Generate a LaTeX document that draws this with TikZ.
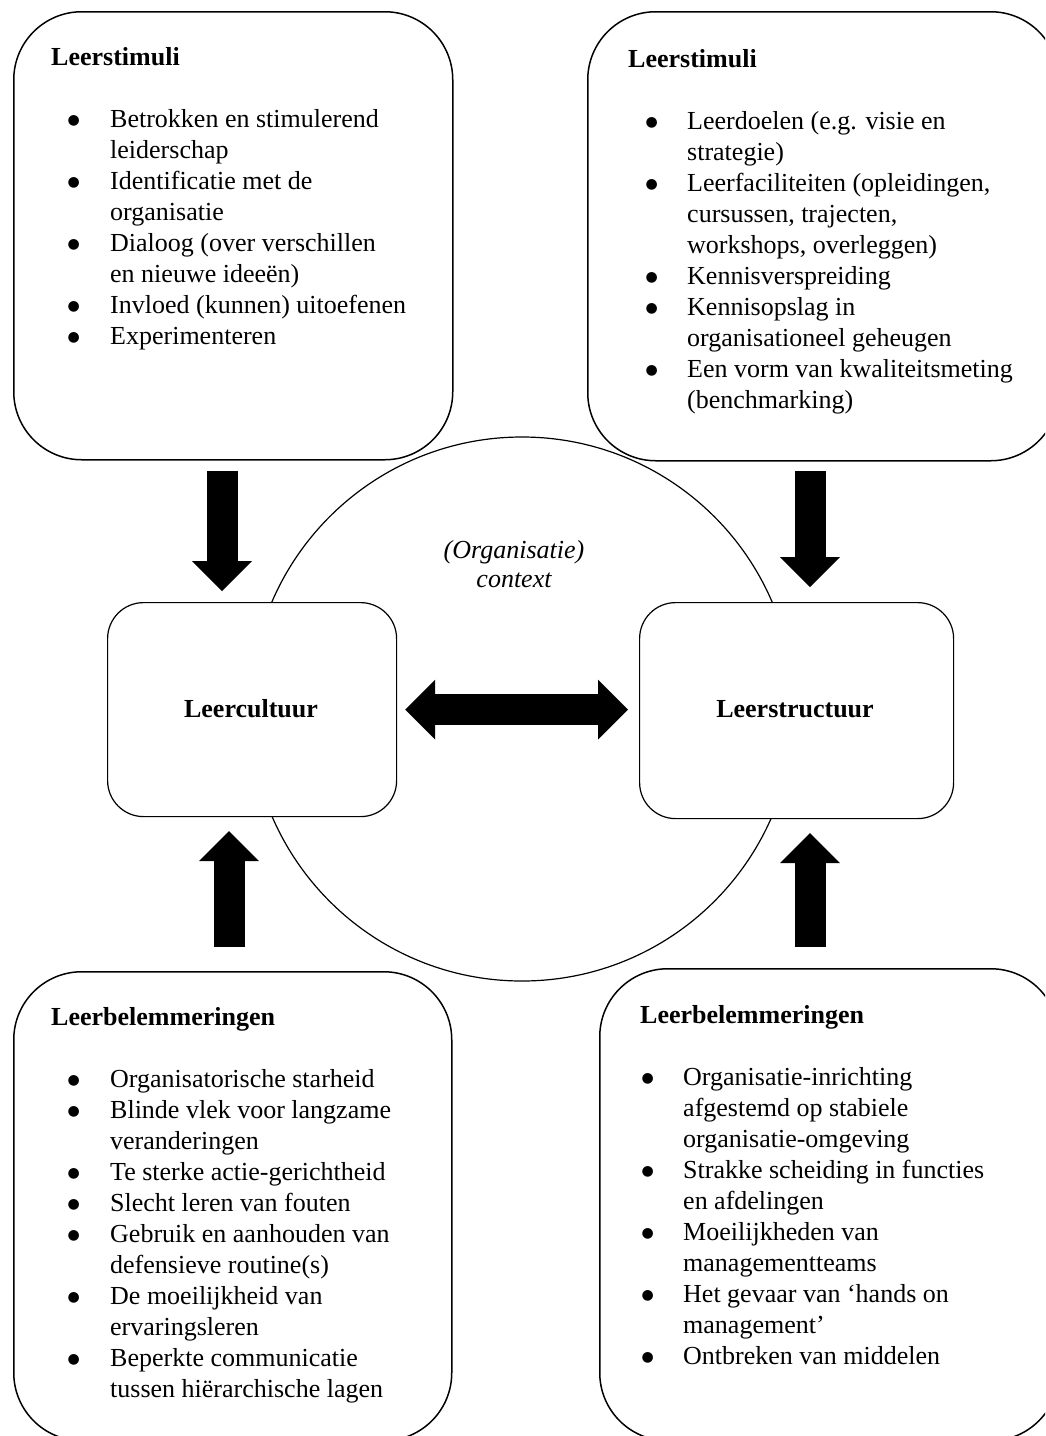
\documentclass[tikz,border=0pt]{standalone}
\usepackage{fontspec}
\setmainfont{Liberation Serif}
\newfontfamily\dejavu{DejaVu Sans}
\usetikzlibrary{arrows.meta,calc}
\newlength{\bw}
\setlength{\bw}{42.5pt}
\newcommand{\bl}{\makebox[\bw][l]{\raisebox{2.5pt}{\dejavu\fontsize{14}{14}\selectfont ●}}}
\newcommand{\nb}{\hspace*{\bw}}
\begin{document}
\begin{tikzpicture}[x=1pt,y=-1pt,
  bigbox/.style={draw, line width=1.5pt, rounded corners=68pt, fill=white, inner sep=0pt, anchor=north west},
  midbox/.style={draw, line width=1.2pt, rounded corners=36pt, fill=white, inner sep=0pt, anchor=north west},
  txt/.style={inner sep=0pt, anchor=base west, font=\fontsize{26}{31}\selectfont},
  midtxt/.style={inner sep=0pt, anchor=base, font=\fontsize{26}{31}\selectfont\bfseries},
  ctxtxt/.style={inner sep=0pt, anchor=base, font=\fontsize{26}{31}\selectfont\itshape},
  blockarrow/.style={line width=31pt, -{Triangle[length=30pt,width=60pt,line width=0pt]}},
  dblarrow/.style={line width=31pt, {Triangle[length=30pt,width=60pt,line width=0pt]}-{Triangle[length=30pt,width=60pt,line width=0pt]}}
]
\useasboundingbox (0,0) rectangle (1045,1436);
\clip (0,0) rectangle (1045,1436);
\fill[white] (0,0) rectangle (1045,1436);

% context circle
\node[draw, circle, line width=1.2pt, minimum size=544pt, inner sep=0pt] (ctx) at (522,709) {};

% outer boxes
\node[bigbox, minimum width=439pt, minimum height=448pt] (tl) at (13,11) {};
\node[bigbox, minimum width=471pt, minimum height=449pt] (tr) at (587,11) {};
\node[bigbox, minimum width=438pt, minimum height=469pt] (bl) at (13,971) {};
\node[bigbox, minimum width=459pt, minimum height=472pt] (br) at (599,968) {};

% middle boxes
\node[midbox, minimum width=289pt, minimum height=214pt] (lc) at (107,602) {};
\node[midbox, minimum width=314pt, minimum height=216pt] (ls) at (639,602) {};

\node[midtxt] (lct) at (251,717) {Leercultuur};
\node[midtxt] (lst) at (795,717) {Leerstructuur};

\node[ctxtxt] (ctxa) at (514,558) {(Organisatie)};
\node[ctxtxt] (ctxb) at (514,587) {context};

% headings
\node[txt, font=\fontsize{26}{31}\selectfont\bfseries] (tlh) at (51,65) {Leerstimuli};
\node[txt, font=\fontsize{26}{31}\selectfont\bfseries] (trh) at (628,67) {Leerstimuli};
\node[txt, font=\fontsize{26}{31}\selectfont\bfseries] (blh) at (51,1025) {Leerbelemmeringen};
\node[txt, font=\fontsize{26}{31}\selectfont\bfseries] (brh) at (640,1023) {Leerbelemmeringen};

% lists
\node[txt] (tll) at (67.5,127) {\setlength{\bw}{42.5pt}\begin{tabular}[t]{@{}l@{}}
\bl Betrokken en stimulerend\\
\nb leiderschap\\
\bl Identificatie met de\\
\nb organisatie\\
\bl Dialoog (over verschillen\\
\nb en nieuwe ideeën)\\
\bl Invloed (kunnen) uitoefenen\\
\bl Experimenteren
\end{tabular}};

\node[txt] (trl) at (645.5,129) {\setlength{\bw}{41.5pt}\begin{tabular}[t]{@{}l@{}}
\bl Leerdoelen (e.g. visie en\\
\nb strategie)\\
\bl Leerfaciliteiten (opleidingen,\\
\nb cursussen, trajecten,\\
\nb workshops, overleggen)\\
\bl Kennisverspreiding\\
\bl Kennisopslag in\\
\nb organisationeel geheugen\\
\bl Een vorm van kwaliteitsmeting\\
\nb (benchmarking)
\end{tabular}};

\node[txt] (bll) at (67.5,1087) {\setlength{\bw}{42.5pt}\begin{tabular}[t]{@{}l@{}}
\bl Organisatorische starheid\\
\bl Blinde vlek voor langzame\\
\nb veranderingen\\
\bl Te sterke actie-gerichtheid\\
\bl Slecht leren van fouten\\
\bl Gebruik en aanhouden van\\
\nb defensieve routine(s)\\
\bl De moeilijkheid van\\
\nb ervaringsleren\\
\bl Beperkte communicatie\\
\nb tussen hiërarchische lagen
\end{tabular}};

\node[txt] (brl) at (641.5,1085) {\setlength{\bw}{41.5pt}\begin{tabular}[t]{@{}l@{}}
\bl Organisatie-inrichting\\
\nb afgestemd op stabiele\\
\nb organisatie-omgeving\\
\bl Strakke scheiding in functies\\
\nb en afdelingen\\
\bl Moeilijkheden van\\
\nb managementteams\\
\bl Het gevaar van ‘hands on\\
\nb management’\\
\bl Ontbreken van middelen
\end{tabular}};

% block arrows
\coordinate (a1s) at (222,471);
\coordinate (a1e) at (222,591);
\coordinate (a2s) at (810,471);
\coordinate (a2e) at (810,587);
\coordinate (a3s) at (229,947);
\coordinate (a3e) at (229,831);
\coordinate (a4s) at (810,947);
\coordinate (a4e) at (810,833);
\draw[blockarrow] (a1s) -- (a1e);
\draw[blockarrow] (a2s) -- (a2e);
\draw[blockarrow] (a3s) -- (a3e);
\draw[blockarrow] (a4s) -- (a4e);
\draw[dblarrow] ($(lc.east)+(8,0)$) -- ($(lc.east -| ls.west)+(-11,0)$);
\end{tikzpicture}
\end{document}
